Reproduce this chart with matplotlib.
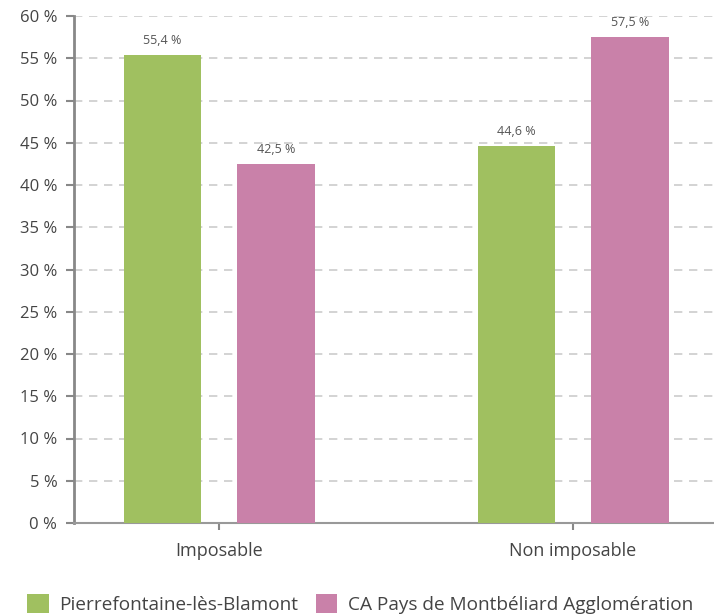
import matplotlib
matplotlib.use("Agg")
import matplotlib.pyplot as plt
import numpy as np

# data
categories = ["Imposable", "Non imposable"]
series_names = ["Pierrefontaine-lès-Blamont", "CA Pays de Montbéliard Agglomération"]
pierrefontaine = [55.4, 44.6]
ca_montbeliard = [42.5, 57.5]
y_ticks = list(range(0, 61, 5))

green = "#a0c060"
pink = "#c981a9"
text_col = "#444444"

plt.rcParams['font.family'] = ['Open Sans', 'DejaVu Sans']

fig = plt.figure(figsize=(7.14, 6.16), dpi=100)
ax = fig.add_axes([74/714, 1 - 523/616, 640/714, 507/616])

x = np.arange(len(categories))
width = 0.22
offset = 0.16
bars1 = ax.bar(x - offset, pierrefontaine, width, color=green, zorder=3, label=series_names[0])
bars2 = ax.bar(x + offset, ca_montbeliard, width, color=pink, zorder=3, label=series_names[1])

def fmt(v):
    return f"{v:.1f}".replace(".", ",") + " %"

for bars in (bars1, bars2):
    for b in bars:
        ax.annotate(fmt(b.get_height()), (b.get_x() + b.get_width() / 2, b.get_height()),
                    xytext=(0, 6), textcoords="offset points", ha="center", va="bottom",
                    fontsize=9, color="#555555")

ax.set_ylim(0, 60)
ax.set_xlim(-0.41, 1.398)
ax.set_yticks(y_ticks)
ax.set_yticklabels([f"{t} %" for t in y_ticks], fontsize=12, color=text_col)
ax.set_xticks(x)
ax.set_xticklabels(categories, fontsize=13, color=text_col)

ax.yaxis.grid(True, linestyle=(0, (5, 4)), color="#cccccc", linewidth=1.2, zorder=0)
ax.set_axisbelow(True)
for s in ("top", "right"):
    ax.spines[s].set_visible(False)
ax.spines["left"].set_color("#888888")
ax.spines["left"].set_linewidth(2)
ax.spines["bottom"].set_color("#999999")
ax.spines["bottom"].set_linewidth(1.5)
ax.tick_params(axis="y", length=6, width=1.5, color="#888888", pad=6)
ax.tick_params(axis="x", length=5, width=1.5, color="#888888", pad=9)

fig.legend(handles=[bars1, bars2], loc="lower left", bbox_to_anchor=(10/714, -15/616),
           ncol=2, frameon=False, fontsize=13.7, handlelength=1.15, handleheight=1.15,
           handletextpad=0.55, columnspacing=0.9, labelcolor=text_col)

fig.savefig("out.png", dpi=100)
